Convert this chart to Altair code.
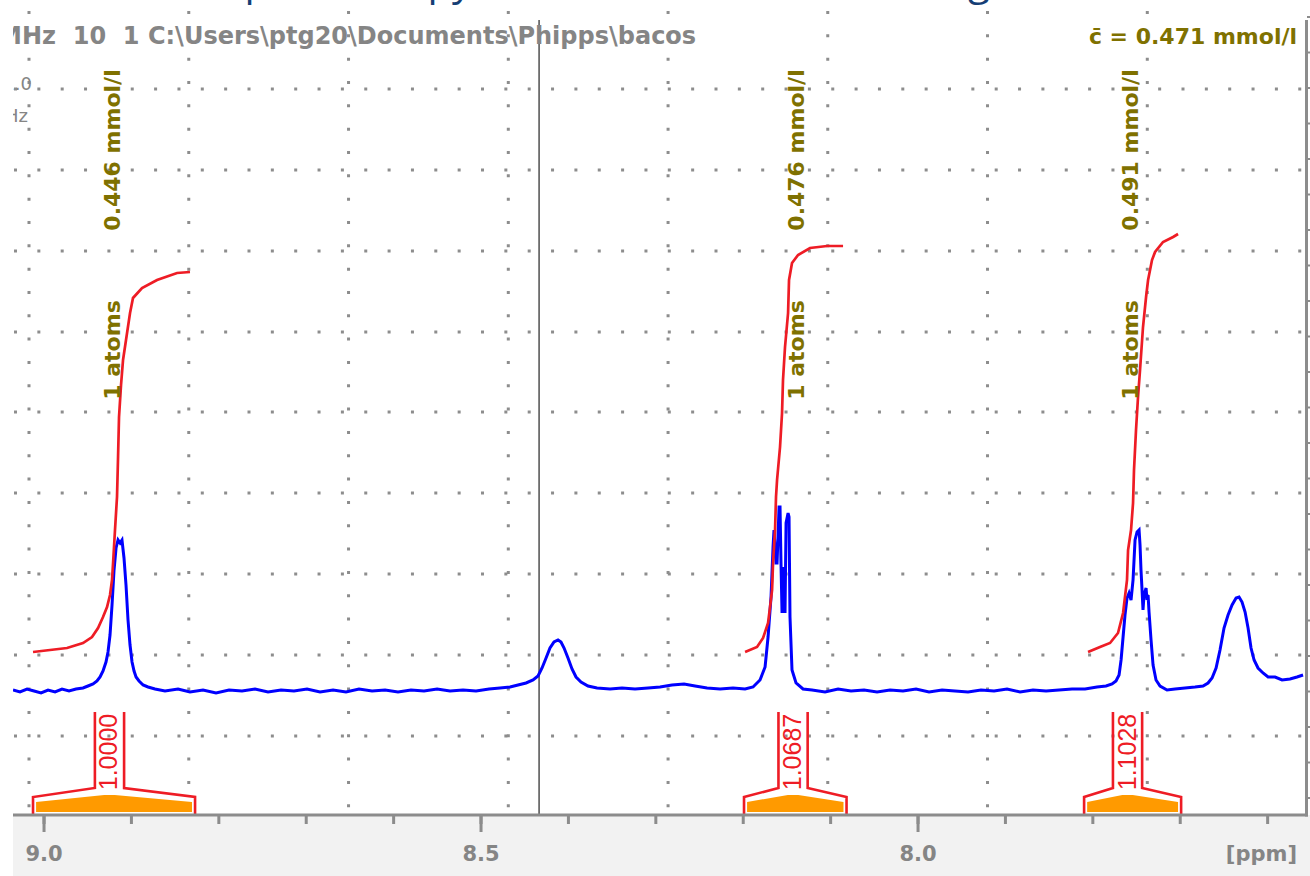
import altair as alt
import pandas as pd

# ---------------------------------------------------------------------------
# 1H spectrum trace: chemical shift (ppm) and intensity (arbitrary units)
# ---------------------------------------------------------------------------
SHIFT = [
    9.0355, 9.0275, 9.0195, 9.0114, 9.0034, 8.9954, 8.9874, 8.9794, 8.9714, 8.9634,
    8.9554, 8.9497, 8.9439, 8.9394, 8.9359, 8.9325, 8.9291, 8.9268, 8.9245, 8.9222,
    8.9199, 8.9176, 8.9153, 8.9130, 8.9108, 8.9085, 8.9062, 8.9039, 8.9016, 8.8993,
    8.8970, 8.8947, 8.8913, 8.8867, 8.8810, 8.8730, 8.8616, 8.8467, 8.8330, 8.8181,
    8.8032, 8.7883, 8.7735, 8.7586, 8.7437, 8.7288, 8.7140, 8.6991, 8.6842, 8.6693,
    8.6545, 8.6396, 8.6247, 8.6098, 8.5950, 8.5801, 8.5652, 8.5503, 8.5355, 8.5206,
    8.5057, 8.4908, 8.4783, 8.4668, 8.4577, 8.4485, 8.4405, 8.4348, 8.4302, 8.4256,
    8.4211, 8.4165, 8.4119, 8.4085, 8.4050, 8.4005, 8.3959, 8.3913, 8.3856, 8.3776,
    8.3673, 8.3524, 8.3387, 8.3238, 8.3089, 8.2952, 8.2815, 8.2677, 8.2551, 8.2414,
    8.2265, 8.2117, 8.1979, 8.1888, 8.1808, 8.1750, 8.1716, 8.1682, 8.1659, 8.1648,
    8.1625, 8.1613, 8.1590, 8.1579, 8.1568, 8.1556, 8.1545, 8.1522, 8.1510, 8.1487,
    8.1476, 8.1465, 8.1442, 8.1396, 8.1316, 8.1213, 8.1064, 8.0915, 8.0767, 8.0618,
    8.0469, 8.0320, 8.0172, 8.0023, 7.9874, 7.9725, 7.9577, 7.9428, 7.9279, 7.9130,
    7.8982, 7.8833, 7.8684, 7.8535, 7.8387, 7.8238, 7.8089, 7.7952, 7.7849, 7.7780,
    7.7735, 7.7700, 7.7677, 7.7654, 7.7632, 7.7609, 7.7586, 7.7563, 7.7540, 7.7517,
    7.7494, 7.7471, 7.7460, 7.7449, 7.7437, 7.7426, 7.7414, 7.7391, 7.7380, 7.7368,
    7.7357, 7.7334, 7.7311, 7.7277, 7.7231, 7.7151, 7.7059, 7.6945, 7.6831, 7.6739,
    7.6682, 7.6636, 7.6590, 7.6545, 7.6499, 7.6453, 7.6407, 7.6361, 7.6327, 7.6293,
    7.6258, 7.6224, 7.6190, 7.6155, 7.6110, 7.6053, 7.5995, 7.5915, 7.5835, 7.5744,
    7.5664, 7.5595,
]
INTENSITY = [
    0, -2, 1, -1, -3, 0, -2, 1, -1, 1,
    2, 4, 6, 9, 13, 19, 28, 38, 55, 85,
    120, 142, 150, 147, 150, 132, 105, 70, 45, 28,
    19, 13, 9, 5, 3, 1, -1, 1, -2, 0,
    -3, 0, -1, 1, -2, 0, -1, 1, -2, 0,
    -2, 1, -1, 0, -2, 0, -1, 1, -1, 0,
    -1, 1, 2, 3, 5, 7, 10, 14, 22, 32,
    42, 48, 50, 48, 42, 32, 21, 13, 8, 4,
    2, 1, 2, 1, 2, 3, 5, 6, 4, 2,
    1, 2, 1, 3, 10, 23, 53, 93, 143, 160,
    127, 127, 183, 183, 127, 77, 123, 77, 167, 177,
    173, 73, 20, 7, 1, 0, -2, 1, -1, 0,
    -2, 0, -1, 1, -2, 0, -1, -2, 0, -1,
    1, -2, 0, -1, 0, 1, 1, 3, 4, 6,
    9, 15, 30, 53, 75, 92, 97, 90, 110, 150,
    158, 160, 145, 120, 100, 80, 95, 102, 90, 95,
    78, 50, 25, 10, 4, 0, 1, 2, 3, 4,
    7, 12, 22, 40, 62, 75, 85, 92, 93, 88,
    78, 62, 42, 30, 22, 17, 13, 13, 10, 11,
    13, 15,
]

# Running integrals over the three integrated regions (same intensity units)
INT1_SHIFT = [9.0126, 8.9737, 8.9554, 8.9451, 8.9382, 8.9325, 8.9279, 8.9245, 8.9222, 8.9210,
              8.9188, 8.9165, 8.9153, 8.9142, 8.9119, 8.9096, 8.9062, 8.9016, 8.8982, 8.8879,
              8.8707, 8.8478, 8.8330]
INT1_LEVEL = [38, 42, 47, 53, 62, 73, 83, 95, 110, 127,
              160, 193, 233, 273, 305, 330, 350, 377, 392, 402,
              410, 417, 418]
INT2_SHIFT = [8.1979, 8.1842, 8.1773, 8.1716, 8.1693, 8.1670, 8.1659, 8.1636, 8.1625, 8.1613,
              8.1579, 8.1556, 8.1545, 8.1522, 8.1487, 8.1476, 8.1442, 8.1373, 8.1236, 8.1041,
              8.0858]
INT2_LEVEL = [38, 43, 52, 67, 83, 100, 127, 160, 193, 210,
              243, 277, 310, 343, 377, 410, 427, 435, 442, 444,
              444]
INT3_SHIFT = [7.8055, 7.7918, 7.7803, 7.7712, 7.7654, 7.7609, 7.7597, 7.7563, 7.7540, 7.7529,
              7.7506, 7.7483, 7.7460, 7.7426, 7.7391, 7.7368, 7.7323, 7.7288, 7.7197, 7.7082,
              7.7025]
INT3_LEVEL = [38, 43, 47, 57, 77, 110, 140, 160, 187, 220,
              260, 293, 320, 363, 393, 410, 430, 438, 448, 453,
              456]

# Integrated regions
REGION_START = [9.0126, 8.1991, 7.8100]
REGION_END = [8.8272, 8.0818, 7.6990]
REGION_LABEL_AT = [8.9251, 8.1430, 7.7603]
REGION_INTEGRAL = [1.0000, 1.0687, 1.1028]
REGION_CONC = [0.446, 0.476, 0.491]
REGION_ATOMS = [1, 1, 1]
MEAN_CONC = 0.471

# ppm axis ticks and labels
PPM_TICKS = [9.0, 8.9, 8.8, 8.7, 8.6, 8.5, 8.4, 8.3, 8.2, 8.1, 8.0, 7.9, 7.8, 7.7, 7.6]
PPM_MAJOR = [9.0, 8.5, 8.0]

# Dotted grid and cursor
GRID_PPM = [9.0172, 8.8344, 8.6516, 8.4688, 8.2860, 8.1033, 7.9205, 7.7377]
GRID_LEVEL = [-46, 35, 116, 197, 278, 358, 439, 520, 601]
CURSOR_PPM = 8.4336

# ---------------------------------------------------------------------------
# Layout and styles
# ---------------------------------------------------------------------------
W, H = 1291, 815
FONT = "DejaVu Sans"
BLUE = "#0000ff"
RED = "#ee1c25"
OLIVE = "#7f7100"
ORANGE = "#ff9a00"
AXIS_GRAY = "#8c8c8c"
TEXT_GRAY = "#858585"
DOT_GRAY = "#8d8d8d"

x_scale = alt.Scale(domain=[7.5584, 9.0355], reverse=True, nice=False, zero=False)
y_scale = alt.Scale(domain=[-125, 690], nice=False, zero=False)

# intensity ticks along the right-hand frame
RIGHT_TICKS = [-108 + 35.5 * k for k in range(23)]


def X(f="ppm"):
    return alt.X(f"{f}:Q", scale=x_scale, axis=None)


def Y(f="level"):
    return alt.Y(f"{f}:Q", scale=y_scale, axis=None)


one = pd.DataFrame({"k": [0]})

# Grey strip under the ppm axis
band = alt.Chart(one).mark_rect(color="#f2f2f2").encode(
    x=alt.value(0), x2=alt.value(W + 6), y=alt.value(H), y2=alt.value(H + 61)
)

# Dotted grid
grid_rows = alt.Chart(pd.DataFrame({"level": GRID_LEVEL})).mark_rule(
    color=DOT_GRAY, strokeWidth=3, strokeDash=[3, 20.35]
).encode(y=Y(), x=alt.value(1), x2=alt.value(W - 1))
grid_cols = alt.Chart(pd.DataFrame({"ppm": GRID_PPM})).mark_rule(
    color=DOT_GRAY, strokeWidth=3, strokeDash=[3, 20.33]
).encode(x=X(), y=alt.value(11), y2=alt.value(H))

cursor = alt.Chart(pd.DataFrame({"ppm": [CURSOR_PPM]})).mark_rule(
    color="#222222", strokeWidth=1.2
).encode(x=X(), y=alt.value(20), y2=alt.value(H))

# Frame: ppm axis line, right-hand intensity bar and their ticks
axis_line = alt.Chart(one).mark_rule(color=AXIS_GRAY, strokeWidth=3).encode(
    x=alt.value(0), x2=alt.value(W + 4), y=alt.value(H)
)
right_bar = alt.Chart(one).mark_rule(color=AXIS_GRAY, strokeWidth=3).encode(
    x=alt.value(W + 2.5), y=alt.value(20), y2=alt.value(H + 1.5)
)
right_ticks = alt.Chart(pd.DataFrame({"level": RIGHT_TICKS})).mark_rule(
    color=AXIS_GRAY, strokeWidth=2
).encode(y=Y(), x=alt.value(W + 3), x2=alt.value(W + 8))
minor_ticks = alt.Chart(pd.DataFrame({"ppm": PPM_TICKS})).mark_rule(
    color=AXIS_GRAY, strokeWidth=3
).encode(x=X(), y=alt.value(H), y2=alt.value(H + 9))
major_ticks = alt.Chart(pd.DataFrame({"ppm": PPM_MAJOR})).mark_rule(
    color=AXIS_GRAY, strokeWidth=3
).encode(x=X(), y=alt.value(H), y2=alt.value(H + 17))
tick_labels = alt.Chart(pd.DataFrame({"ppm": PPM_MAJOR})).mark_text(
    font=FONT, fontWeight="bold", fontSize=21, color=TEXT_GRAY, align="center", baseline="middle"
).encode(x=X(), y=alt.value(H + 40), text=alt.Text("ppm:Q", format=".1f"))
unit_label = alt.Chart(one).mark_text(
    text="[ppm]", font=FONT, fontWeight="bold", fontSize=21, color=TEXT_GRAY,
    align="right", baseline="middle",
).encode(x=alt.value(W - 7), y=alt.value(H + 40))

# Integral brackets (red outline) and their orange footprints
HALF_CHANNEL = 0.0167
FOOT, CORNER, SHOULDER, TOP = -125, -107, -98, -22
FILL_INSET, FILL_FLAT = 0.0035, 0.006
FILL_EDGE, FILL_PEAK, FILL_BASE = -112, -105, -122

bracket_rows, fill_rows, value_rows, label_rows = [], [], [], []
for i, (s, e, c) in enumerate(zip(REGION_START, REGION_END, REGION_LABEL_AT)):
    sides = {
        "l": [(s, FOOT), (s, CORNER), (c + HALF_CHANNEL, SHOULDER), (c + HALF_CHANNEL, TOP)],
        "r": [(e, FOOT), (e, CORNER), (c - HALF_CHANNEL, SHOULDER), (c - HALF_CHANNEL, TOP)],
    }
    for side, pts in sides.items():
        for k, (p, v) in enumerate(pts):
            bracket_rows.append({"key": f"{i}{side}", "k": k, "ppm": p, "level": v})
    for p, v in [(s - FILL_INSET, FILL_EDGE), (c + FILL_FLAT, FILL_PEAK),
                 (c - FILL_FLAT, FILL_PEAK), (e + FILL_INSET, FILL_EDGE)]:
        fill_rows.append({"region": i, "ppm": p, "level": v, "base": FILL_BASE})
    value_rows.append({"ppm": c, "level": -62, "label": f"{REGION_INTEGRAL[i]:.4f}"})
    label_rows.append({"ppm": c - 0.004, "level": 540, "label": f"{REGION_CONC[i]:.3f} mmol/l"})
    label_rows.append({"ppm": c - 0.004, "level": 340, "label": f"{REGION_ATOMS[i]} atoms"})

fills = alt.Chart(pd.DataFrame(fill_rows)).mark_area(color=ORANGE).encode(
    x=X(), y=Y(), y2="base:Q", detail="region:N"
)
brackets = alt.Chart(pd.DataFrame(bracket_rows)).mark_line(
    color=RED, strokeWidth=2.6, strokeJoin="miter"
).encode(x=X(), y=Y(), detail="key:N", order="k:Q")
values = alt.Chart(pd.DataFrame(value_rows)).mark_text(
    color=RED, font="Liberation Sans", fontSize=25, angle=270, align="center", baseline="middle"
).encode(x=X(), y=Y(), text="label:N")

# Spectrum
spectrum = alt.Chart(pd.DataFrame({"ppm": SHIFT, "level": INTENSITY})).mark_line(
    color=BLUE, strokeWidth=3, clip=True
).encode(x=X(), y=Y())

# Integral curves
int_df = pd.concat([
    pd.DataFrame({"region": r, "ppm": xs, "level": ys})
    for r, xs, ys in [(0, INT1_SHIFT, INT1_LEVEL), (1, INT2_SHIFT, INT2_LEVEL), (2, INT3_SHIFT, INT3_LEVEL)]
])
integrals = alt.Chart(int_df).mark_line(color=RED, strokeWidth=2.7).encode(
    x=X(), y=Y(), detail="region:N"
)

labels = alt.Chart(pd.DataFrame(label_rows)).mark_text(
    color=OLIVE, font=FONT, fontWeight="bold", fontSize=22, angle=270, align="center", baseline="middle"
).encode(x=X(), y=Y(), text="label:N")

# Header line and concentration summary
NB = "\u00a0"
header = alt.Chart(one).mark_text(
    text="MHz" + NB * 2 + "10" + NB * 2 + "1" + NB + r"C:\Users\ptg20\Documents\Phipps\bacos",
    font=FONT, fontWeight="bold", fontSize=24, color=TEXT_GRAY, align="left", baseline="middle", clip=True,
).encode(x=alt.value(-14.9), y=alt.value(37))
mean_text = alt.Chart(one).mark_text(
    text=f"c\u0304 = {MEAN_CONC:.3f} mmol/l",
    font=FONT, fontWeight="bold", fontSize=22, color=OLIVE, align="right", baseline="middle",
).encode(x=alt.value(1284), y=alt.value(37))
edge1 = alt.Chart(one).mark_text(
    text="1.0", font=FONT, fontSize=18, color=TEXT_GRAY, align="right", baseline="middle", clip=True,
).encode(x=alt.value(19), y=alt.value(85))
edge2 = alt.Chart(one).mark_text(
    text="Hz", font=FONT, fontSize=18, color=TEXT_GRAY, align="right", baseline="middle", clip=True,
).encode(x=alt.value(15), y=alt.value(117))

# Slide title running above the spectrum window (only its lowest strokes show)
title_a = alt.Chart(one).mark_text(
    text="NMR spectroscopy", font="Open Sans", fontSize=40, color="#153e75",
    align="right", baseline="alphabetic",
).encode(x=alt.value(459), y=alt.value(-5))
title_b = alt.Chart(one).mark_text(
    text=": concentration of the drug,", font="Open Sans", fontSize=40, color="#153e75",
    align="left", baseline="alphabetic",
).encode(x=alt.value(479), y=alt.value(-5))

chart = alt.layer(
    band, grid_rows, grid_cols, cursor, fills, brackets, values,
    spectrum, integrals, labels,
    axis_line, right_bar, right_ticks, minor_ticks, major_ticks, tick_labels, unit_label,
    header, mean_text, edge1, edge2, title_a, title_b,
).properties(
    width=W, height=H,
    padding={"left": 13, "top": 0, "right": 6, "bottom": 61},
    autosize=alt.AutoSizeParams(type="none"),
    background="white",
).configure_view(stroke="transparent")

chart.save("out.html", embed_options={"renderer": "svg", "actions": False})
